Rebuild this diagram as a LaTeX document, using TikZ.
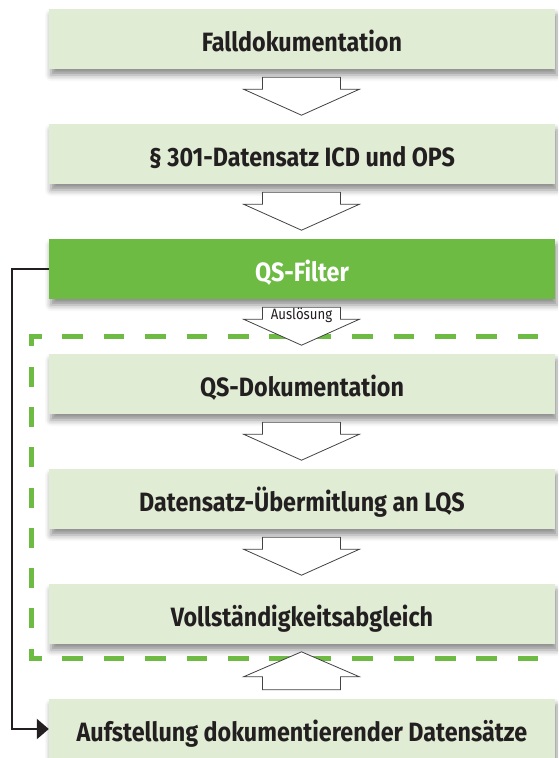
\documentclass[tikz,border=0pt]{standalone}
\usepackage{fontspec}
\setmainfont{Fira Sans}[FakeStretch=0.88]
\usetikzlibrary{arrows.meta,calc,shadows.blur}
\definecolor{lgreen}{HTML}{E0EDD4}
\definecolor{qsgreen}{HTML}{6DBB43}
\definecolor{txt}{HTML}{231F20}
\begin{document}
\begin{tikzpicture}[x=1pt,y=-1pt,
  box/.style={minimum width=506pt, minimum height=60pt, inner sep=0pt, fill=lgreen,
    font=\fontsize{26.5}{28}\selectfont\bfseries, text=txt, text height=24pt, text depth=0pt,
    blur shadow={shadow xshift=2pt, shadow yshift=-6pt, shadow blur radius=6pt, shadow opacity=45}},
  qsbox/.style={box, fill=qsgreen, text=white},
  bigarrow/.style={draw=txt!85, line width=0.8pt, fill=white, line join=miter},
  frame/.style={draw=qsgreen, line width=4.6pt, line cap=butt, line join=miter},
  conn/.style={draw=txt, line width=2.4pt, -{Triangle[length=12pt,width=20pt]}},
  darr/.pic={\draw[bigarrow] (-39,0) -- (39,0) -- (39,12) -- (58,12) -- (0,38) -- (-58,12) -- (-39,12) -- cycle;},
  uarr/.pic={\draw[bigarrow] (-39,0) -- (39,0) -- (39,-13) -- (58,-13) -- (0,-38) -- (-58,-13) -- (-39,-13) -- cycle;}
]
\useasboundingbox (0,0) rectangle (558,758);
\clip (0,0) rectangle (558,758);

\node[box]   (f1) at (302,39)  {Falldokumentation};
\node[box]   (f2) at (302,154) {§ 301-Datensatz ICD und OPS};
\node[qsbox] (f3) at (302,269) {QS-Filter};
\node[box]   (f4) at (302,384) {QS-Dokumentation};
\node[box]   (f5) at (302,499) {Datensatz-Übermitlung an LQS};
\node[box]   (f6) at (302,614) {Vollständigkeitsabgleich};
\node[box]   (f7) at (302,729) {Aufstellung dokumentierender Datensätze};

% dashed frame
\coordinate (ftl) at (31.5,336.3);
\coordinate (fbl) at (31.5,658.7);
\coordinate (ftr) at (538,336.3);
\coordinate (fbr) at (538,658.7);
\draw[frame, dash pattern=on 20.5pt off 20.9pt, dash phase=10.5pt] (ftl) -- (ftr);
\draw[frame, dash pattern=on 20.5pt off 20.9pt, dash phase=10.5pt] (fbl) -- (fbr);
\draw[frame, dash pattern=on 20pt off 20.3pt, dash phase=10pt] (ftl) -- (fbl);
\draw[frame] ($(ftl)+(10,0)$) -- (ftl) -- ($(ftl)+(0,10)$);
\draw[frame] ($(fbl)+(10,0)$) -- (fbl) -- ($(fbl)+(0,-10)$);

% block arrows
\pic at ($(f1.south)+(-0.5,8)$) {darr};
\pic at ($(f2.south)+(-0.5,8)$) {darr};
\pic at ($(f3.south)+(-0.5,8)$) {darr};
\pic at ($(f4.south)+(-0.5,8)$) {darr};
\pic at ($(f5.south)+(-0.5,8)$) {darr};
\pic at ($(f7.north)+(-0.5,-9)$) {uarr};
\node[font=\fontsize{15}{17}\selectfont, text=txt, inner sep=0pt] (ausl) at ($(f3.south)+(-0.5,16)$) {Auslösung};

% connector
\draw[conn] (f3.west) -- ++(-36.7,0) |- (f7.west);
\end{tikzpicture}
\end{document}
